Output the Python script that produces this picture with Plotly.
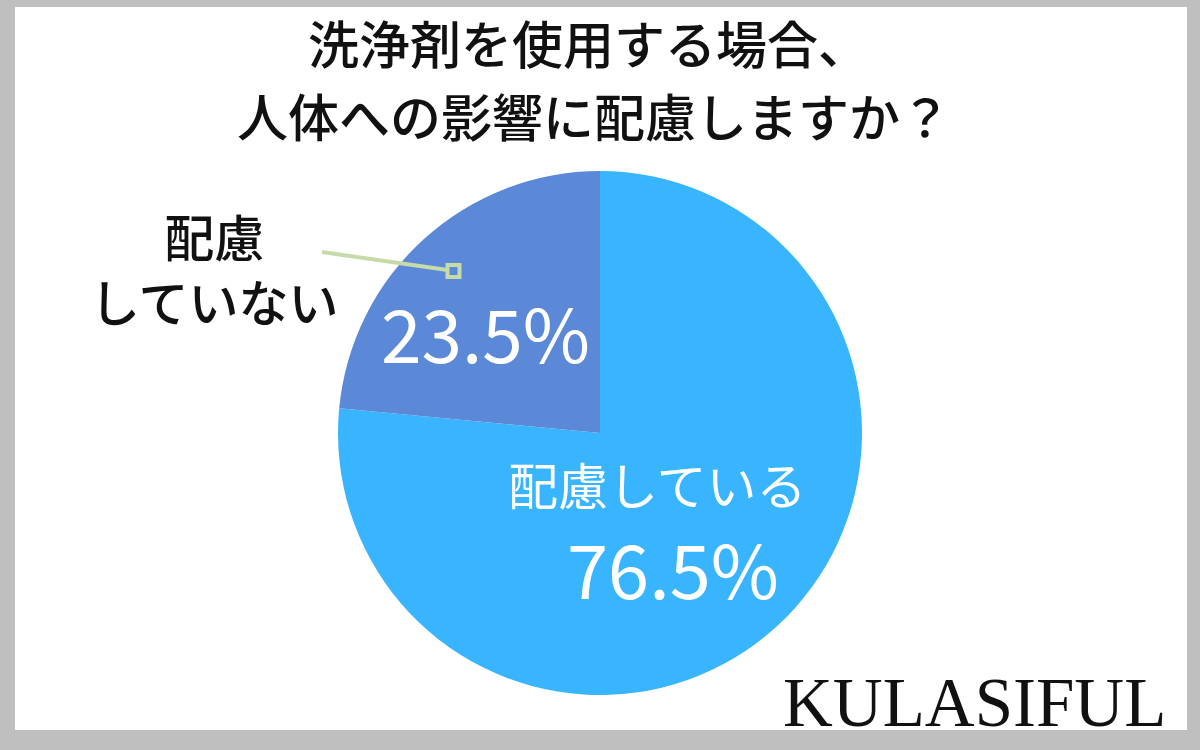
import plotly.graph_objects as go

# Data
title_lines = ["洗浄剤を使用する場合、", "人体への影響に配慮しますか？"]
labels = ["配慮している", "配慮<br>していない"]
values = [76.5, 23.5]
pct_text = ["76.5%", "23.5%"]
colors = ["#38B5FE", "#5B89D7"]
brand = "KULASIFUL"

W, H = 1200, 750
FONT = "Noto Sans CJK JP"
LEADER = "#C6DBA8"


def px(x, y):
    # pixel position -> paper coords
    return x / W, 1 - y / H


def note(x, y, text, size, color, family=FONT, weight=400):
    ax, ay = px(x, y)
    return dict(x=ax, y=ay, xref="paper", yref="paper",
                xanchor="center", yanchor="middle", align="center",
                text=text, showarrow=False,
                font=dict(family=family, size=size, color=color, weight=weight))


fig = go.Figure()

# Pie: center (600, 433), radius 262
x0, y0 = px(338, 695)
x1, y1 = px(862, 171)
fig.add_trace(go.Pie(
    labels=labels,
    values=values,
    sort=False,
    direction="clockwise",
    rotation=0,
    marker=dict(colors=colors, line=dict(width=0)),
    textinfo="none",
    hoverinfo="label+value",
    showlegend=False,
    domain=dict(x=[x0, x1], y=[y0, y1]),
))

annotations = [
    note(588, 42, title_lines[0], 51, "#111111", weight=500),
    note(594, 115, title_lines[1], 51, "#111111", weight=500),
    note(657, 483, labels[0], 50, "white"),
    note(673, 566, pct_text[0], 74, "white"),
    note(485, 331, pct_text[1], 73, "white"),
    note(214, 268, labels[1], 50, "#111111", weight=500),
    note(974, 703, brand, 69, "#111111", family="Liberation Serif"),
]

# Frame: gray border with white inner panel
wx0, wy0 = px(15, 730)
wx1, wy1 = px(1187, 7)
# Leader line and its square end
lx0, ly0 = px(322, 252)
lx1, ly1 = px(453.5, 271)
sq = 6

fig.update_layout(
    width=W, height=H,
    margin=dict(l=0, r=0, t=0, b=0),
    paper_bgcolor="#BFBFBF",
    plot_bgcolor="rgba(0,0,0,0)",
    xaxis=dict(range=[0, 1], visible=False, fixedrange=True),
    yaxis=dict(range=[0, 1], visible=False, fixedrange=True),
    shapes=[
        dict(type="rect", xref="paper", yref="paper",
             x0=wx0, y0=wy0, x1=wx1, y1=wy1,
             fillcolor="white", line=dict(width=0), layer="below"),
        dict(type="line", xref="paper", yref="paper",
             x0=lx0, y0=ly0, x1=lx1 - sq / W, y1=ly1 + 0.9 / H,
             line=dict(color=LEADER, width=4), layer="above"),
        dict(type="rect", xref="paper", yref="paper",
             x0=lx1 - sq / W, y0=ly1 - sq / H, x1=lx1 + sq / W, y1=ly1 + sq / H,
             fillcolor="rgba(0,0,0,0)", line=dict(color=LEADER, width=4), layer="above"),
    ],
    annotations=annotations,
)

fig.write_html("out.html", config={"displayModeBar": False},
               post_script="document.body.style.margin='0';")
